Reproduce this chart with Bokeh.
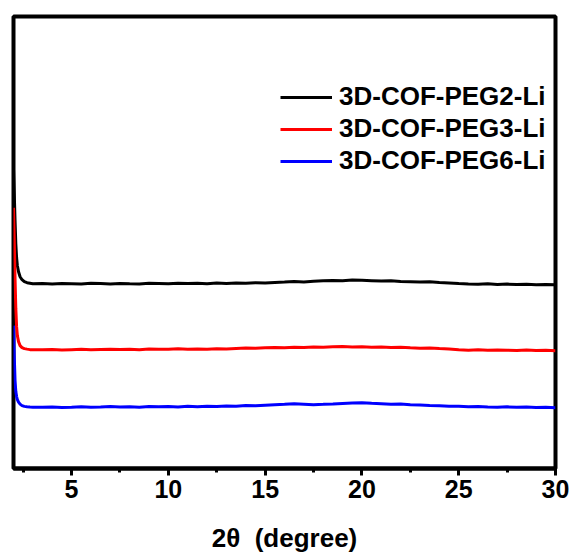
from bokeh.plotting import figure
from bokeh.models import Range1d, FixedTicker, Legend, LegendItem
from bokeh.embed import file_html
from bokeh.resources import INLINE

# 2-theta grid (degree)
two_theta = [2.0, 2.04, 2.08, 2.12, 2.16, 2.2, 2.26, 2.34, 2.44, 2.56, 2.7, 2.85, 3.0,
             3.5, 4.0, 4.5, 5.0, 5.5, 6.0, 6.5, 7.0, 7.5, 8.0, 8.5, 9.0, 9.5, 10.0, 10.5, 11.0, 11.5,
             12.0, 12.5, 13.0, 13.5, 14.0, 14.5, 15.0, 15.5, 16.0,
             16.5, 17.0, 17.5, 18.0, 18.5, 19.0, 19.5, 20.0,
             20.5, 21.0, 21.5, 22.0, 22.5, 23.0, 23.5, 24.0, 24.5, 25.0,
             25.5, 26.0, 26.5, 27.0, 27.5, 28.0, 28.5, 29.0, 29.5, 30.0]

# intensities (a.u., already offset for stacking)
peg2 = [300, 275, 248, 225, 211, 203, 197, 192, 189, 187, 186, 185.5, 185,
        185.2, 184.8, 185.3, 185.0, 184.6, 185.4, 185.1, 184.7, 185.3, 185.0, 184.8, 185.4, 185.2, 184.9, 185.5, 185.1, 185.4,
        185.0, 185.6, 185.2, 185.8, 185.4, 186.0, 185.6, 186.3, 186.6,
        187.2, 186.8, 187.5, 187.9, 188.2, 188.0, 188.8, 188.4,
        188.0, 187.6, 187.9, 187.2, 187.0, 186.6, 186.9, 186.2, 185.8, 185.2,
        184.8, 184.5, 184.9, 184.3, 184.6, 184.2, 184.5, 184.0, 184.3, 184.0]

peg3 = [261, 228, 190, 160, 142, 133, 127, 123, 121, 120, 119.5, 119, 119,
        118.8, 119.1, 118.7, 119.0, 119.3, 118.9, 119.2, 119.5, 119.1, 119.4, 119.0, 119.6, 119.3, 119.5, 119.8, 119.4, 119.7,
        119.5, 120.0, 119.7, 120.2, 120.6, 120.3, 120.9, 121.2, 121.0,
        121.5, 121.2, 121.7, 121.4, 121.9, 122.1, 121.6, 122.0,
        121.5, 121.7, 121.1, 121.3, 120.8, 120.5, 120.7, 120.1, 119.6, 118.8,
        118.5, 118.9, 118.3, 118.7, 118.4, 118.2, 118.6, 118.1, 118.4, 118.0]

peg6 = [143, 112, 88, 77, 72, 69, 66.5, 64.5, 63, 62.2, 61.8, 61.5, 61.3,
        61.2, 61.6, 61.1, 61.4, 61.8, 61.3, 61.6, 62.0, 61.5, 61.8, 61.4, 62.1, 61.7, 62.0, 61.6, 62.2, 61.9,
        62.3, 62.0, 62.6, 62.4, 63.1, 62.8, 63.4, 63.9, 64.3,
        64.8, 64.4, 63.9, 64.2, 64.6, 65.1, 65.5, 65.8,
        65.2, 64.9, 64.3, 64.5, 63.8, 63.5, 63.1, 62.8, 62.4, 62.2,
        61.8, 62.1, 61.6, 61.3, 61.7, 61.2, 61.5, 61.0, 61.3, 60.9]

labels = ["3D-COF-PEG2-Li", "3D-COF-PEG3-Li", "3D-COF-PEG6-Li"]
colors = ["#000000", "#ff0000", "#0000ff"]
major_ticks = [5, 10, 15, 20, 25, 30]
minor_ticks = [2.5, 7.5, 12.5, 17.5, 22.5, 27.5]

FONT = "Liberation Sans"

p = figure(width=572, height=557, output_backend="svg", toolbar_location=None,
           x_range=Range1d(2.0, 30.0), y_range=Range1d(0, 452.5),
           y_axis_location=None,
           min_border_left=13, min_border_right=17, min_border_top=16, min_border_bottom=89)
p.xgrid.visible = False
p.ygrid.visible = False
p.outline_line_color = "black"
p.outline_line_width = 4
p.background_fill_color = "white"
p.border_fill_color = "white"

renderers = []
for ys, c in zip([peg2, peg3, peg6], colors):
    r = p.line(two_theta, ys, line_color=c, line_width=3)
    renderers.append(r)

ax = p.xaxis[0]
ax.ticker = FixedTicker(ticks=major_ticks, minor_ticks=minor_ticks)
ax.axis_line_width = 4
ax.axis_line_color = "black"
ax.major_tick_in = 0
ax.major_tick_out = 7
ax.minor_tick_in = 0
ax.minor_tick_out = 4
ax.major_tick_line_width = 3
ax.minor_tick_line_width = 3
ax.major_label_text_font = FONT
ax.major_label_text_font_style = "bold"
ax.major_label_text_font_size = "25px"
ax.major_label_text_color = "black"
ax.major_label_standoff = 4
ax.axis_label = "2\u03b8\u00a0\u00a0(degree)"
ax.axis_label_text_font = FONT
ax.axis_label_text_font_style = "bold"
ax.axis_label_text_font_size = "26px"
ax.axis_label_text_color = "black"
ax.axis_label_standoff = 22

legend = Legend(items=[LegendItem(label=l, renderers=[r]) for l, r in zip(labels, renderers)],
                location=(267, 292))
legend.border_line_color = None
legend.background_fill_alpha = 0
legend.padding = 0
legend.margin = 0
legend.spacing = 1
legend.label_height = 30
legend.glyph_height = 30
legend.glyph_width = 52
legend.label_standoff = 7
legend.label_text_font = FONT
legend.label_text_font_style = "bold"
legend.label_text_font_size = "26px"
legend.label_text_color = "black"
p.add_layout(legend)

open("out.html", "w").write(file_html(p, INLINE))
